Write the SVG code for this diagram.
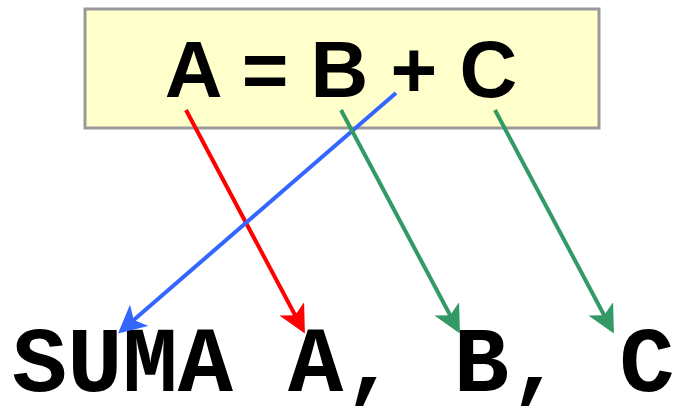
<svg xmlns="http://www.w3.org/2000/svg" width="675" height="406" viewBox="0 0 675 406">
<style>
.top{font-family:"Liberation Sans",Arial,sans-serif;font-weight:bold;font-size:80px;fill:#000}
.bot{font-family:"Liberation Mono","Courier New",monospace;font-weight:bold;font-size:92px;fill:#000}
.c{fill:none;stroke-width:4}
</style>
<defs>
<marker id="mr" markerWidth="7" markerHeight="7" refX="6" refY="3.5" orient="auto" markerUnits="strokeWidth"><path d="M0,0 L7,3.5 L0,7 L1.8,3.5 z" fill="#ff0000"/></marker>
<marker id="mb" markerWidth="7" markerHeight="7" refX="6" refY="3.5" orient="auto" markerUnits="strokeWidth"><path d="M0,0 L7,3.5 L0,7 L1.8,3.5 z" fill="#3366ff"/></marker>
<marker id="mg" markerWidth="7" markerHeight="7" refX="6" refY="3.5" orient="auto" markerUnits="strokeWidth"><path d="M0,0 L7,3.5 L0,7 L1.8,3.5 z" fill="#339966"/></marker>
</defs>
<rect width="675" height="406" fill="#fff"/>
<g id="equation">
<rect x="85" y="9" width="514" height="119" fill="#ffffcc" stroke="#999" stroke-width="3"/>
<text class="top" x="341" y="97" text-anchor="middle">A = B + C</text>
</g>
<g id="instruction">
<text class="bot" x="12" y="391">SUMA A, B, C</text>
</g>
<g id="connectors">
<line class="c" x1="186" y1="110" x2="303" y2="330" stroke="#ff0000" marker-end="url(#mr)"/>
<line class="c" x1="396" y1="93" x2="121" y2="331" stroke="#3366ff" marker-end="url(#mb)"/>
<line class="c" x1="341" y1="110" x2="458" y2="330" stroke="#339966" marker-end="url(#mg)"/>
<line class="c" x1="495" y1="110" x2="612" y2="330" stroke="#339966" marker-end="url(#mg)"/>
</g>
</svg>
